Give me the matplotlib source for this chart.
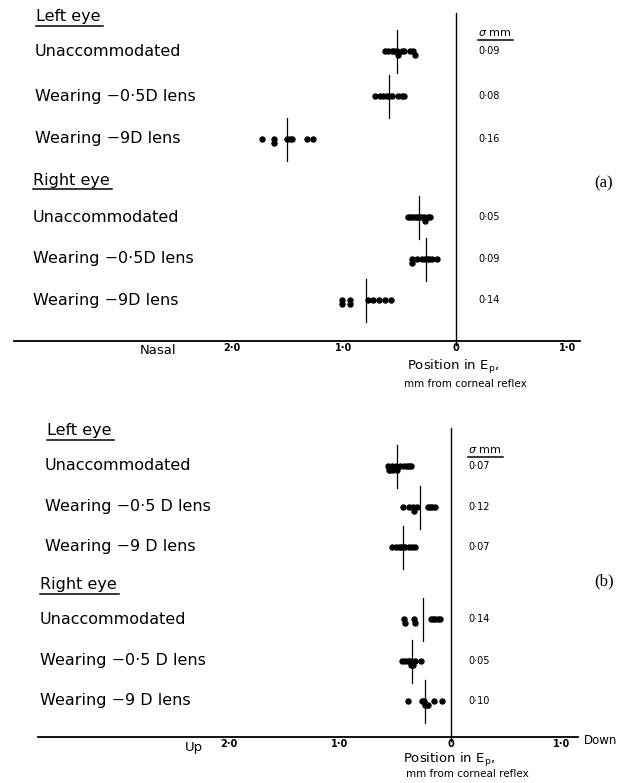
import matplotlib.pyplot as plt
from matplotlib.lines import Line2D

# ---- data (mm from corneal reflex; positive = nasal / up, drawn to the left)
row_labels_a = ["Unaccommodated", "Wearing \u22120\u00b75D lens", "Wearing \u22129D lens"]
row_labels_b = ["Unaccommodated", "Wearing \u22120\u00b75 D lens", "Wearing \u22129 D lens"]

# panel (a): horizontal position, nasal
points_a = [
    [0.63, 0.61, 0.57, 0.55, 0.53, 0.52, 0.48, 0.46, 0.41, 0.38, 0.37],
    [0.72, 0.68, 0.65, 0.62, 0.60, 0.57, 0.52, 0.48, 0.46],
    [1.73, 1.625, 1.625, 1.51, 1.48, 1.46, 1.33, 1.28],
    [0.43, 0.41, 0.39, 0.37, 0.35, 0.33, 0.31, 0.29, 0.28, 0.25, 0.23],
    [0.39, 0.39, 0.35, 0.30, 0.28, 0.26, 0.24, 0.21, 0.17],
    [1.02, 1.02, 0.95, 0.95, 0.79, 0.74, 0.69, 0.63, 0.58],
]
centre_a = [0.53, 0.60, 1.51, 0.33, 0.27, 0.80]
sigma_a = ["0\u00b709", "0\u00b708", "0\u00b716", "0\u00b705", "0\u00b709", "0\u00b714"]

# panel (b): vertical position, up
points_b = [
    [0.57, 0.56, 0.55, 0.53, 0.52, 0.50, 0.49, 0.46, 0.42, 0.40, 0.38, 0.36],
    [0.43, 0.38, 0.34, 0.33, 0.31, 0.21, 0.19, 0.17, 0.14],
    [0.53, 0.50, 0.47, 0.45, 0.43, 0.41, 0.38, 0.35, 0.32],
    [0.42, 0.41, 0.33, 0.32, 0.18, 0.16, 0.14, 0.12, 0.10],
    [0.44, 0.41, 0.39, 0.37, 0.36, 0.35, 0.34, 0.32, 0.27],
    [0.39, 0.26, 0.24, 0.23, 0.22, 0.21, 0.15, 0.08],
]
centre_b = [0.49, 0.28, 0.43, 0.25, 0.35, 0.23]
sigma_b = ["0\u00b707", "0\u00b712", "0\u00b707", "0\u00b714", "0\u00b705", "0\u00b710"]

tick_vals = [2.0, 1.0, 0.0, -1.0]
tick_labels = ["2\u00b70", "1\u00b70", "0", "1\u00b70"]

W, H = 623, 783
plt.rcParams['font.family'] = ['DejaVu Sans']
fig = plt.figure(figsize=(W / 100, H / 100), dpi=100)
underlined = []
LABEL_FS = 11.5


def ftext(x, y, s, **kw):
    kw.setdefault('va', 'center')
    kw.setdefault('ha', 'left')
    return fig.text(x / W, 1 - y / H, s, **kw)


def stack_offsets(vals, tol=0.015, step=3.5):
    offs, placed = [], []
    for v in vals:
        n = sum(1 for p in placed if abs(p - v) < tol)
        k = (n + 1) // 2 * (1 if n % 2 else -1)
        offs.append(k * step)
        placed.append(v)
    return offs


def panel(x0, x1, y0, y1, zero_px, scale, rows_y, points, centres):
    ax = fig.add_axes([x0 / W, 1 - y1 / H, (x1 - x0) / W, (y1 - y0) / H])
    ax.set_xlim((x0 - zero_px) / scale, (x1 - zero_px) / scale)
    ax.set_ylim(y1, y0)
    for s in ['top', 'left', 'right']:
        ax.spines[s].set_visible(False)
    ax.spines['bottom'].set_linewidth(1.3)
    ax.set_yticks([])
    ax.set_xticks([-v for v in tick_vals], tick_labels)
    ax.tick_params(axis='x', length=0, pad=1.5, labelsize=7)
    for lab in ax.get_xticklabels():
        lab.set_fontweight('bold')
    for y, vals, c in zip(rows_y, points, centres):
        offs = stack_offsets(vals)
        ax.plot([-v for v in vals], [y + o for o in offs], 'o', color='black',
                ms=3.6, mec='black', clip_on=False)
        ax.plot([-c, -c], [y - 21, y + 22], color='black', lw=0.9)
    return ax


# ---- panel (a)
rows_a = [51, 96, 139, 217, 259, 300]
ax_a = panel(14, 580, 0, 341, 456, 112, rows_a, points_a, centre_a)
ax_a.plot([0, 0], [13, 345], color='black', lw=1.0, clip_on=False)
underlined.append(ftext(36, 17, "Left eye", fontsize=LABEL_FS))
underlined.append(ftext(33, 180, "Right eye", fontsize=LABEL_FS))
for i, y in enumerate(rows_a):
    ftext(35 if i < 3 else 33, y, row_labels_a[i % 3], fontsize=LABEL_FS)
    ftext(478, y, sigma_a[i], fontsize=7)
underlined.append(ftext(478, 33, r"$\sigma$ mm", fontsize=8))
ftext(604, 183, "(a)", fontsize=12, family='Liberation Serif', ha='center')
ftext(140, 350, "Nasal", fontsize=9.5)
ftext(453, 367, r"Position in E$_\mathrm{p}$,", fontsize=9.5, ha='center')
ftext(465, 384, "mm from corneal reflex", fontsize=7.5, ha='center')

# ---- panel (b)
rows_b = [466, 507, 547, 619, 661, 701]
ax_b = panel(38, 578, 400, 737, 451, 111, rows_b, points_b, centre_b)
ax_b.plot([0, 0], [428, 741], color='black', lw=1.0, clip_on=False)
underlined.append(ftext(47, 431, "Left eye", fontsize=LABEL_FS))
underlined.append(ftext(40, 585, "Right eye", fontsize=LABEL_FS))
for i, y in enumerate(rows_b):
    ftext(45 if i < 3 else 40, y, row_labels_b[i % 3], fontsize=LABEL_FS)
    ftext(468, y, sigma_b[i], fontsize=7)
underlined.append(ftext(468, 450, r"$\sigma$ mm", fontsize=8))
ftext(604, 581, "(b)", fontsize=12, family='Liberation Serif', ha='center')
ftext(185, 748, "Up", fontsize=9.5)
ftext(584, 741, "Down", fontsize=8.5)
ftext(449, 760, r"Position in E$_\mathrm{p}$,", fontsize=9.5, ha='center')
ftext(467, 774, "mm from corneal reflex", fontsize=7.5, ha='center')

# underline headers
fig.canvas.draw()
r = fig.canvas.get_renderer()
for t in underlined:
    bb = t.get_window_extent(r)
    yl = (bb.y0 - 1.5) / H
    fig.add_artist(Line2D([bb.x0 / W, (bb.x1 + 2) / W], [yl, yl],
                          transform=fig.transFigure, color='black', lw=1.1))

fig.savefig("out.png", dpi=100)
